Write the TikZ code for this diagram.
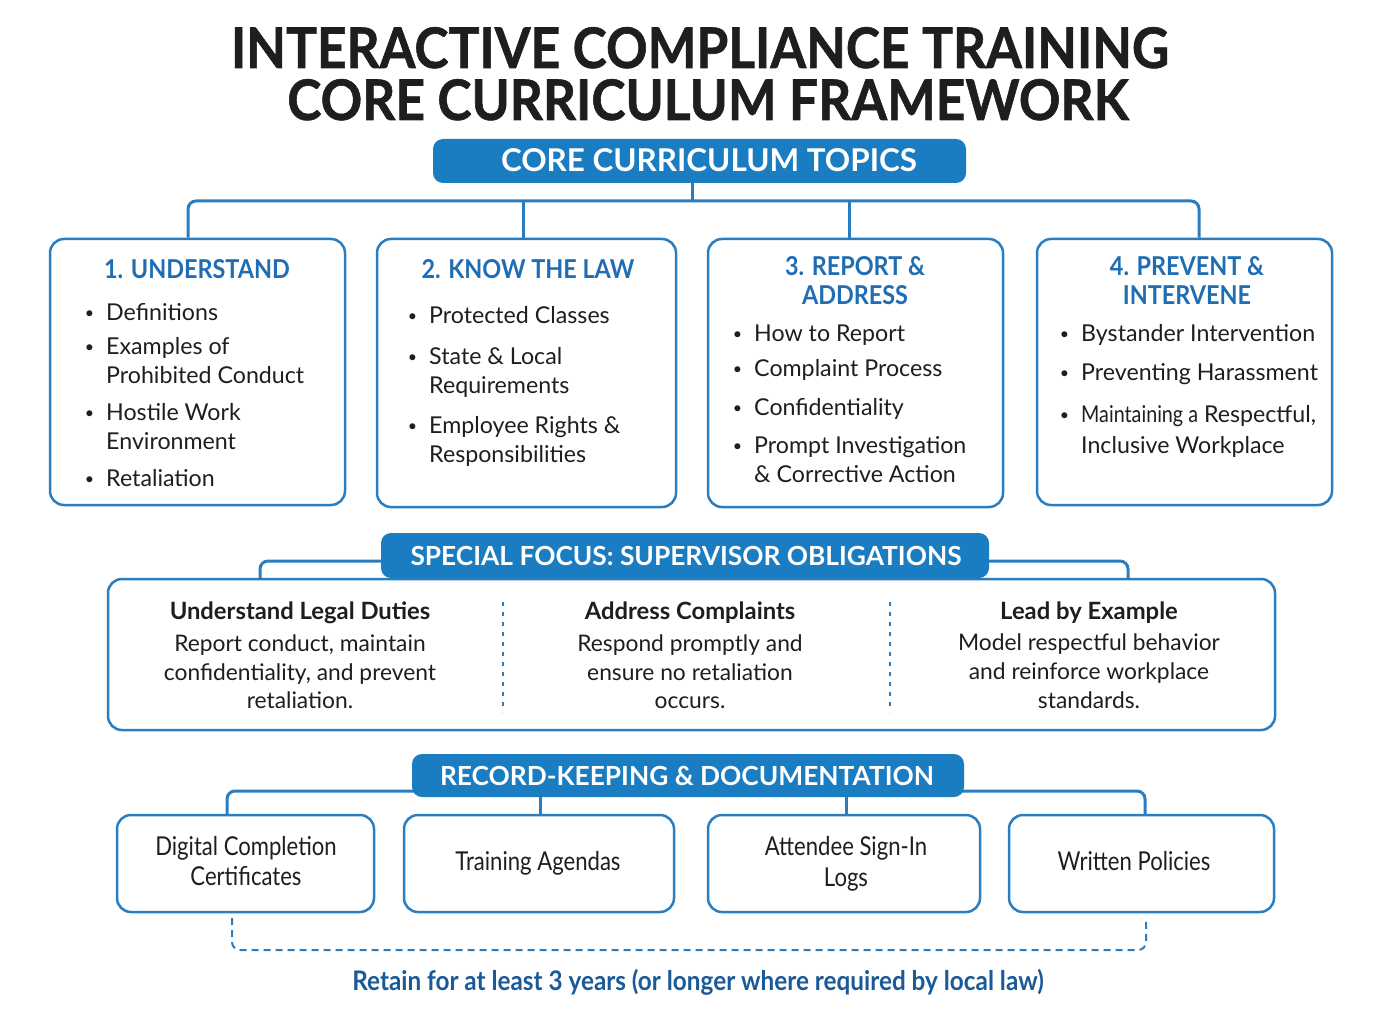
\documentclass[tikz,border=0pt]{standalone}
\usepackage{fontspec}
\setmainfont{Lato}
\newfontfamily\titlefont[FakeStretch=0.92, BoldFeatures={FakeBold=1}]{Lato}
\newfontfamily\headfont[FakeStretch=0.9]{Lato}
\newfontfamily\narrowfont[FakeStretch=0.85]{Lato}
\newfontfamily\notefont[FakeStretch=0.9]{Lato}
\definecolor{bannerblue}{HTML}{1A7CC1}
\definecolor{linkblue}{HTML}{2A7DBF}
\definecolor{headblue}{HTML}{1F6DB3}
\definecolor{noteblue}{HTML}{1B5A98}
\definecolor{inkgray}{HTML}{1E1E1E}
\newcommand{\bul}{\llap{\raisebox{1.5pt}{\fontsize{16}{16}\selectfont\textbullet}\hspace{12pt}}}
\tikzset{
  card/.style={draw=linkblue, line width=2.5pt, rounded corners=14pt, fill=white},
  banner/.style={fill=bannerblue, rounded corners=10pt},
  conn/.style={draw=linkblue, line width=3pt, rounded corners=8pt},
  txt/.style={inner sep=0pt, text=inkgray, font=\fontsize{23.2}{29}\selectfont},
  item/.style={txt, anchor=base west},
  ctr/.style={txt, anchor=base, font=\fontsize{22.8}{29}\selectfont},
  cardhead/.style={inner sep=0pt, anchor=base, text=headblue, font=\fontsize{26}{29}\headfont\bfseries},
  bannertext/.style={inner sep=0pt, anchor=base, text=white, font=\fontsize{31.4}{34}\selectfont\bfseries},
  boxtext/.style={txt, anchor=base, font=\fontsize{26}{29}\narrowfont},
  divider/.style={linkblue, line width=2.5pt, dash pattern=on 4pt off 6pt},
}
\begin{document}
\begin{tikzpicture}[x=1pt,y=-1pt]
  \useasboundingbox[fill=white] (0,0) rectangle (1383,1024);

  % title
  \node[inner sep=0pt, anchor=base, text=inkgray, font=\fontsize{56}{60}\titlefont\bfseries] (title1) at (700,68) {INTERACTIVE COMPLIANCE TRAINING};
  \node[inner sep=0pt, anchor=base, text=inkgray, font=\fontsize{56}{60}\titlefont\bfseries] (title2) at (708,120) {CORE CURRICULUM FRAMEWORK};

  % core topics
  \node[banner, minimum width=533, minimum height=44] (topics) at (699.5,161) {};
  \node[bannertext] (topicst) at (709,172) {CORE CURRICULUM TOPICS};

  \node[card, minimum width=295, minimum height=266] (b1) at (197.5,372) {};
  \node[card, minimum width=299, minimum height=268] (b2) at (526.5,373) {};
  \node[card, minimum width=295, minimum height=268] (b3) at (855.5,373) {};
  \node[card, minimum width=295, minimum height=266] (b4) at (1184.5,372) {};

  \coordinate (t0) at (692,201);
  \coordinate (t1) at (188,201);
  \coordinate (t2) at (523,201);
  \coordinate (t3) at (849,201);
  \coordinate (t4) at (1199,201);
  \draw[conn] (t1 |- b1.north) -- (t1) -- (t4) -- (t4 |- b4.north);
  \draw[conn] (topics.south -| t0) -- (t0);
  \draw[conn] (t2) -- (t2 |- b2.north);
  \draw[conn] (t3) -- (t3 |- b3.north);

  \path
    (197,278) node[cardhead] (h1) {1. UNDERSTAND}
    (106,320) node[item] (u1) {\bul Definitions}
    (106,354) node[item] (u2) {\bul Examples of}
    (106,383) node[item] (u3) {Prohibited Conduct}
    (106,420) node[item] (u4) {\bul Hostile Work}
    (106,449) node[item] (u5) {Environment}
    (106,486) node[item] (u6) {\bul Retaliation};
  \path
    (528,278) node[cardhead] (h2) {2. KNOW THE LAW}
    (429,323) node[item] (k1) {\bul Protected Classes}
    (429,364) node[item] (k2) {\bul State \& Local}
    (429,393) node[item] (k3) {Requirements}
    (429,433) node[item] (k4) {\bul Employee Rights \&}
    (429,462) node[item] (k5) {Responsibilities};
  \path
    (855,275) node[cardhead] (h3a) {3. REPORT \&}
    (855,304) node[cardhead] (h3b) {ADDRESS}
    (754,341) node[item] (r1) {\bul How to Report}
    (754,376) node[item] (r2) {\bul Complaint Process}
    (754,415) node[item] (r3) {\bul Confidentiality}
    (754,453) node[item] (r4) {\bul Prompt Investigation}
    (754,482) node[item] (r5) {\& Corrective Action};
  \path
    (1187,275) node[cardhead] (h4a) {4. PREVENT \&}
    (1187,304) node[cardhead] (h4b) {INTERVENE}
    (1081,341) node[item] (p1) {\bul Bystander Intervention}
    (1081,380) node[item] (p2) {\bul Preventing Harassment}
    (1081,422) node[item] (p3) {\bul {\narrowfont Maintaining a} Respectful,}
    (1081,453) node[item] (p4) {Inclusive Workplace};

  % supervisor obligations
  \node[card, minimum width=1167, minimum height=151] (sup) at (691.5,654.5) {};
  \coordinate (s1) at (260,561);
  \coordinate (s2) at (1128,561);
  \draw[conn] (s1 |- sup.north) -- (s1) -- (s2) -- (s2 |- sup.north);
  \node[banner, minimum width=608, minimum height=45] (focus) at (685,555.5) {};
  \node[bannertext, font=\fontsize{26.3}{29}\selectfont\bfseries] (focust) at (686,565) {SPECIAL FOCUS: SUPERVISOR OBLIGATIONS};
  \draw[divider] (503,602) -- (503,712);
  \draw[divider] (890,602) -- (890,712);
  \path
    (300,619) node[ctr, font=\fontsize{23.8}{29}\selectfont\bfseries] (d0) {Understand Legal Duties}
    (300,651) node[ctr] (d1) {Report conduct, maintain}
    (300,680) node[ctr] (d2) {confidentiality, and prevent}
    (300,708) node[ctr] (d3) {retaliation.};
  \path
    (690,619) node[ctr, font=\fontsize{23.8}{29}\selectfont\bfseries] (c0) {Address Complaints}
    (690,651) node[ctr] (c1) {Respond promptly and}
    (690,680) node[ctr] (c2) {ensure no retaliation}
    (690,708) node[ctr] (c3) {occurs.};
  \path
    (1089,619) node[ctr, font=\fontsize{23.8}{29}\selectfont\bfseries] (e0) {Lead by Example}
    (1089,650) node[ctr] (e1) {Model respectful behavior}
    (1089,679) node[ctr] (e2) {and reinforce workplace}
    (1089,708) node[ctr] (e3) {standards.};

  % record keeping
  \node[card, minimum width=257, minimum height=97] (r1b) at (245.5,863.5) {};
  \node[card, minimum width=270, minimum height=97] (r2b) at (539,863.5) {};
  \node[card, minimum width=272, minimum height=97] (r3b) at (844,863.5) {};
  \node[card, minimum width=265, minimum height=97] (r4b) at (1141.5,863.5) {};
  \coordinate (g1) at (227,791);
  \coordinate (g2) at (540,791);
  \coordinate (g3) at (846,791);
  \coordinate (g4) at (1145,791);
  \draw[conn] (g1 |- r1b.north) -- (g1) -- (g4) -- (g4 |- r4b.north);
  \draw[conn] (g2) -- (g2 |- r2b.north);
  \draw[conn] (g3) -- (g3 |- r3b.north);
  \node[banner, minimum width=552, minimum height=43] (records) at (688,775.5) {};
  \node[bannertext, font=\fontsize{26.3}{29}\selectfont\bfseries] (recordst) at (687,785) {RECORD-KEEPING \& DOCUMENTATION};
  \path
    (246,855) node[boxtext] (q1) {Digital Completion}
    (246,885) node[boxtext] (q2) {Certificates}
    (538,870) node[boxtext] (q3) {Training Agendas}
    (846,855) node[boxtext] (q4) {Attendee Sign-In}
    (846,886) node[boxtext] (q5) {Logs}
    (1134,870) node[boxtext] (q6) {Written Policies};

  % retention note
  \coordinate (n1) at (232,918);
  \coordinate (n2) at (1146,918);
  \draw[linkblue, line width=2pt, dash pattern=on 7pt off 5pt, rounded corners=8pt] (n1) -- (232,950) -- (1146,950) -- (n2);
  \node[inner sep=0pt, anchor=base, text=noteblue, font=\fontsize{27}{29}\notefont\bfseries] (note) at (698,990) {Retain for at least 3 years (or longer where required by local law)};
\end{tikzpicture}
\end{document}
